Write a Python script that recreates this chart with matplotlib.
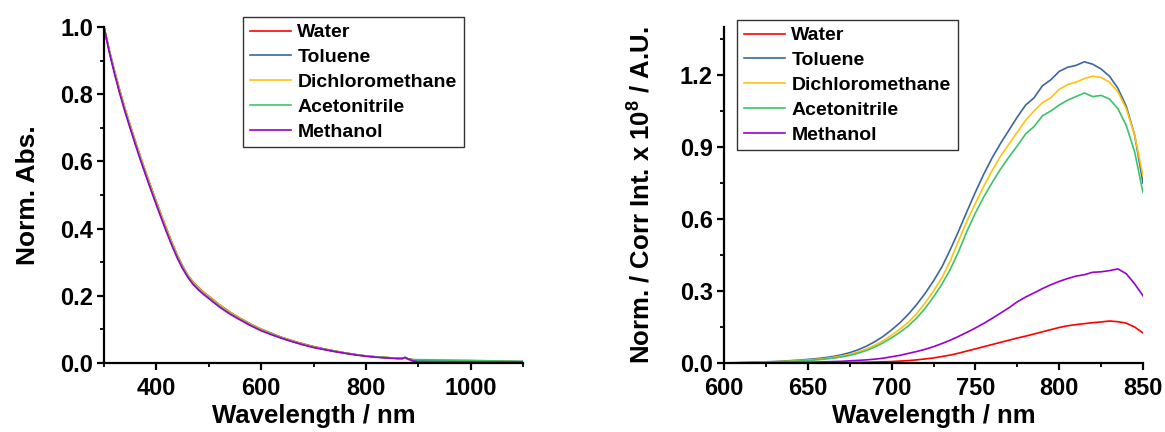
import matplotlib
matplotlib.use("Agg")
import matplotlib.pyplot as plt
from matplotlib.ticker import MultipleLocator

# ---------------- Absorption data (left panel) ----------------
abs_wl = [300, 310, 320, 330, 340, 350, 360, 370, 380, 390, 400, 410, 420, 430,
          440, 450, 460, 470, 480, 490, 500, 520, 540, 560, 580, 600, 620, 640,
          660, 680, 700, 720, 740, 760, 780, 800, 820, 840, 860, 870, 875, 880,
          890, 900, 950, 1000, 1050, 1100]

abs_water = [1.000, 0.932, 0.870, 0.812, 0.758, 0.708, 0.659, 0.612, 0.567, 0.523,
             0.480, 0.438, 0.397, 0.358, 0.321, 0.289, 0.262, 0.241, 0.225, 0.211,
             0.199, 0.174, 0.152, 0.133, 0.116, 0.101, 0.088, 0.076, 0.066, 0.057,
             0.049, 0.042, 0.036, 0.030, 0.025, 0.021, 0.018, 0.016, 0.014, 0.014,
             0.015, 0.013, 0.010, 0.008, 0.006, 0.005, 0.005, 0.004]
abs_toluene = [1.000, 0.929, 0.866, 0.808, 0.754, 0.704, 0.655, 0.608, 0.563, 0.519,
               0.476, 0.434, 0.393, 0.354, 0.317, 0.286, 0.259, 0.238, 0.222, 0.208,
               0.196, 0.171, 0.149, 0.131, 0.114, 0.099, 0.087, 0.075, 0.065, 0.056,
               0.048, 0.041, 0.035, 0.030, 0.025, 0.021, 0.018, 0.016, 0.014, 0.014,
               0.016, 0.012, 0.008, 0.007, 0.006, 0.005, 0.004, 0.004]
abs_dcm = [1.000, 0.931, 0.869, 0.811, 0.757, 0.707, 0.658, 0.611, 0.566, 0.522,
           0.479, 0.437, 0.396, 0.357, 0.320, 0.288, 0.261, 0.240, 0.224, 0.210,
           0.198, 0.173, 0.151, 0.132, 0.115, 0.100, 0.087, 0.075, 0.065, 0.056,
           0.048, 0.041, 0.035, 0.030, 0.025, 0.021, 0.018, 0.016, 0.014, 0.014,
           0.016, 0.011, 0.004, 0.002, 0.001, 0.000, 0.002, 0.003]
abs_acn = [1.000, 0.928, 0.864, 0.806, 0.752, 0.702, 0.653, 0.606, 0.561, 0.517,
           0.474, 0.432, 0.391, 0.352, 0.316, 0.285, 0.258, 0.237, 0.221, 0.207,
           0.195, 0.170, 0.148, 0.130, 0.113, 0.098, 0.086, 0.074, 0.064, 0.055,
           0.047, 0.041, 0.035, 0.029, 0.025, 0.021, 0.018, 0.016, 0.014, 0.014,
           0.016, 0.012, 0.010, 0.010, 0.009, 0.008, 0.006, 0.005]
abs_meoh = [1.000, 0.925, 0.861, 0.802, 0.748, 0.698, 0.649, 0.602, 0.557, 0.513,
            0.470, 0.428, 0.387, 0.348, 0.312, 0.281, 0.255, 0.234, 0.218, 0.204,
            0.192, 0.167, 0.146, 0.128, 0.111, 0.096, 0.084, 0.073, 0.063, 0.054,
            0.046, 0.040, 0.034, 0.029, 0.024, 0.020, 0.017, 0.015, 0.013, 0.013,
            0.017, 0.012, 0.006, 0.003, 0.002, 0.002, 0.003, 0.003]

# ---------------- Emission data (right panel) ----------------
em_wl = list(range(600, 851, 5))

em_water = [0.000, 0.000, 0.000, 0.000, 0.000, 0.000, 0.000, 0.001, 0.001, 0.001,
            0.001, 0.001, 0.001, 0.002, 0.002, 0.002, 0.003, 0.003, 0.004, 0.005,
            0.006, 0.008, 0.010, 0.013, 0.017, 0.021, 0.027, 0.033, 0.041, 0.050,
            0.059, 0.068, 0.077, 0.086, 0.095, 0.104, 0.112, 0.121, 0.130, 0.139,
            0.148, 0.155, 0.160, 0.164, 0.168, 0.171, 0.175, 0.172, 0.166, 0.150,
            0.125]
em_toluene = [0.000, 0.001, 0.002, 0.003, 0.004, 0.005, 0.006, 0.008, 0.010, 0.012,
              0.015, 0.018, 0.022, 0.027, 0.034, 0.043, 0.055, 0.070, 0.089, 0.111,
              0.138, 0.168, 0.203, 0.244, 0.290, 0.342, 0.400, 0.472, 0.550, 0.632,
              0.712, 0.787, 0.855, 0.915, 0.970, 1.025, 1.075, 1.105, 1.155, 1.180,
              1.215, 1.232, 1.240, 1.255, 1.245, 1.225, 1.195, 1.145, 1.070, 0.950,
              0.750]
em_dcm = [0.000, 0.001, 0.001, 0.002, 0.003, 0.004, 0.005, 0.006, 0.008, 0.010,
          0.012, 0.015, 0.018, 0.023, 0.029, 0.036, 0.046, 0.058, 0.074, 0.093,
          0.116, 0.141, 0.170, 0.206, 0.250, 0.300, 0.355, 0.425, 0.510, 0.592,
          0.665, 0.737, 0.802, 0.862, 0.912, 0.962, 1.012, 1.050, 1.085, 1.105,
          1.140, 1.160, 1.170, 1.185, 1.195, 1.190, 1.170, 1.130, 1.060, 0.950,
          0.780]
em_acn = [0.000, 0.000, 0.001, 0.002, 0.002, 0.003, 0.004, 0.005, 0.007, 0.008,
          0.010, 0.013, 0.016, 0.020, 0.025, 0.032, 0.041, 0.052, 0.067, 0.084,
          0.105, 0.128, 0.155, 0.188, 0.228, 0.275, 0.328, 0.390, 0.465, 0.550,
          0.625, 0.692, 0.752, 0.808, 0.858, 0.905, 0.955, 0.985, 1.030, 1.050,
          1.075, 1.095, 1.110, 1.125, 1.110, 1.115, 1.100, 1.060, 0.990, 0.880,
          0.710]
em_meoh = [0.000, 0.000, 0.000, 0.001, 0.001, 0.001, 0.002, 0.002, 0.002, 0.003,
           0.003, 0.004, 0.005, 0.006, 0.007, 0.009, 0.011, 0.013, 0.016, 0.020,
           0.026, 0.032, 0.040, 0.048, 0.057, 0.068, 0.081, 0.095, 0.111, 0.128,
           0.146, 0.165, 0.186, 0.208, 0.230, 0.255, 0.275, 0.292, 0.310, 0.326,
           0.340, 0.352, 0.362, 0.368, 0.378, 0.380, 0.385, 0.392, 0.372, 0.330,
           0.280]

solvents = ["Water", "Toluene", "Dichloromethane", "Acetonitrile", "Methanol"]
colors = ["#FF0000", "#3B67A0", "#FFC20E", "#3CC36A", "#9A00D0"]

# ---------------- Styling ----------------
plt.rcParams["font.family"] = ["Liberation Sans", "DejaVu Sans"]
plt.rcParams["font.weight"] = "bold"
plt.rcParams["mathtext.fontset"] = "custom"
plt.rcParams["mathtext.rm"] = "Liberation Sans:bold"
plt.rcParams["mathtext.it"] = "Liberation Sans:bold"
plt.rcParams["mathtext.bf"] = "Liberation Sans:bold"

W, H = 1165, 432
fig = plt.figure(figsize=(W / 100, H / 100), dpi=100)

ax1 = fig.add_axes([104 / W, 69 / H, 419 / W, 336 / H])
ax2 = fig.add_axes([724 / W, 69 / H, 419 / W, 336 / H])


def style_axis(ax):
    for side in ("top", "right"):
        ax.spines[side].set_visible(False)
    for side in ("left", "bottom"):
        ax.spines[side].set_linewidth(1.6)
    ax.tick_params(which="major", direction="out", length=5, width=1.6,
                   labelsize=17, pad=3)
    ax.tick_params(axis="x", which="major", pad=5)
    ax.tick_params(which="minor", direction="out", length=3, width=1.3)
    for lab in ax.get_xticklabels() + ax.get_yticklabels():
        lab.set_fontweight("bold")


# Left: normalised absorption
abs_series = [abs_water, abs_toluene, abs_dcm, abs_acn, abs_meoh]
for name, col, ys in zip(solvents, colors, abs_series):
    ax1.plot(abs_wl, ys, color=col, lw=1.2, label=name)
ax1.set_xlim(300, 1100)
ax1.set_ylim(0, 1.0)
ax1.xaxis.set_major_locator(MultipleLocator(200))
ax1.xaxis.set_minor_locator(MultipleLocator(100))
ax1.yaxis.set_major_locator(MultipleLocator(0.2))
ax1.yaxis.set_minor_locator(MultipleLocator(0.1))
ax1.yaxis.set_major_formatter(plt.FormatStrFormatter("%.1f"))
style_axis(ax1)
ax1.set_xlabel("Wavelength / nm", fontsize=18.5, fontweight="bold", labelpad=3)
ax1.set_ylabel("Norm. Abs.", fontsize=19, fontweight="bold", labelpad=14)

# Right: corrected emission intensity
em_series = [em_water, em_toluene, em_dcm, em_acn, em_meoh]
for name, col, ys in zip(solvents, colors, em_series):
    ax2.plot(em_wl, ys, color=col, lw=1.2, label=name)
ax2.set_xlim(600, 850)
ax2.set_ylim(0, 1.4)
ax2.xaxis.set_major_locator(MultipleLocator(50))
ax2.xaxis.set_minor_locator(MultipleLocator(25))
ax2.yaxis.set_major_locator(MultipleLocator(0.3))
ax2.yaxis.set_minor_locator(MultipleLocator(0.15))
ax2.yaxis.set_major_formatter(plt.FormatStrFormatter("%.1f"))
style_axis(ax2)
ax2.set_xlabel("Wavelength / nm", fontsize=18.5, fontweight="bold", labelpad=3)
ax2.set_ylabel(r"Norm. / Corr Int. x 10$^{8}$ / A.U.", fontsize=18.5,
               fontweight="bold", labelpad=18)

legend_kw = dict(loc="upper left", fontsize=14, frameon=True, fancybox=False,
                 edgecolor="#333333", framealpha=1, borderaxespad=0,
                 handlelength=2.1, handletextpad=0.35, labelspacing=0.37,
                 borderpad=0.35, bbox_transform=fig.transFigure)
for ax, anchor in ((ax1, (243 / W, 1 - 17 / H)), (ax2, (737 / W, 1 - 20 / H))):
    leg = ax.legend(bbox_to_anchor=anchor, **legend_kw)
    leg.get_frame().set_linewidth(1.0)
    for t in leg.get_texts():
        t.set_fontweight("bold")

fig.savefig("out.png", dpi=100)
